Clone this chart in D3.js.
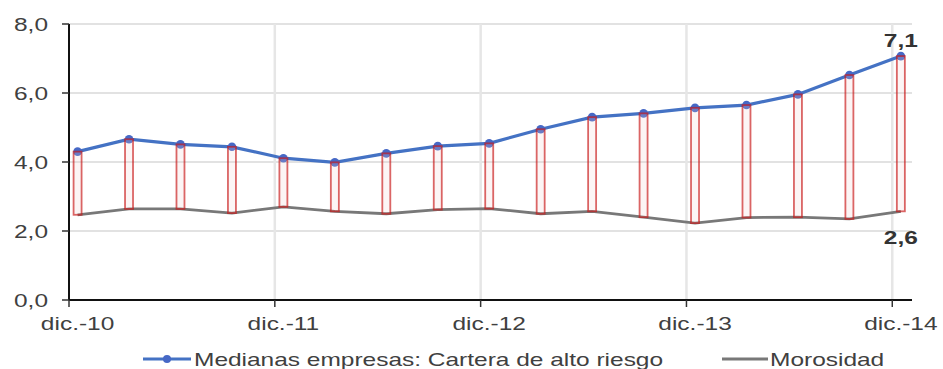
<!DOCTYPE html>
<html><head><meta charset="utf-8">
<script src="https://cdn.jsdelivr.net/npm/d3@7/dist/d3.min.js"></script>
<style>
html,body{margin:0;padding:0;background:#fff;}
svg{display:block;font-family:"Liberation Sans",Arial,sans-serif;}
</style></head>
<body>
<svg id="c" width="943" height="369"></svg>
<script>
const quarters = ["dic.-10","mar.-11","jun.-11","sep.-11","dic.-11","mar.-12","jun.-12","sep.-12","dic.-12","mar.-13","jun.-13","sep.-13","dic.-13","mar.-14","jun.-14","sep.-14","dic.-14"];
const highRisk = [4.30,4.66,4.51,4.44,4.11,3.99,4.25,4.46,4.54,4.95,5.30,5.41,5.57,5.65,5.96,6.52,7.07];
const morosidad = [2.47,2.64,2.64,2.52,2.70,2.57,2.50,2.62,2.65,2.50,2.57,2.40,2.23,2.39,2.40,2.35,2.57];
const xTickLabels = ["dic.-10","dic.-11","dic.-12","dic.-13","dic.-14"];
const yTickValues = [0,2,4,6,8];
const seriesNames = ["Medianas empresas: Cartera de alto riesgo","Morosidad"];

const SX = 1.36; // horizontal stretch of the reference text
const svg = d3.select("#c");
const fmt = v => d3.format(".1f")(v).replace(".", ",");

// months since dic.-10 ; points sit half a month after the tick
const monthOf = i => i * 3 + 0.5;
const x = d3.scaleLinear().domain([0, 49.15]).range([69, 912]);
const y = d3.scaleLinear().domain([0, 8]).range([300, 24]);

function stext(g, txt, px, py, anchor, opts) {
  return g.append("text")
    .attr("transform", `translate(${px},${py}) scale(${SX},1)`)
    .attr("text-anchor", anchor)
    .attr("font-size", opts.size || 18)
    .attr("font-weight", opts.weight || "normal")
    .attr("fill", opts.fill || "#404040")
    .text(txt);
}

// grid
const grid = svg.append("g");
grid.selectAll("line.h").data(yTickValues.filter(v => v > 0)).join("line")
  .attr("x1", x(0)).attr("x2", x(49.15))
  .attr("y1", d => y(d)).attr("y2", d => y(d))
  .attr("stroke", "#e2e2e2").attr("stroke-width", 2);
const tickMonths = xTickLabels.map((d, k) => k * 12);
grid.selectAll("line.v").data(tickMonths.slice(1)).join("line")
  .attr("x1", d => x(d)).attr("x2", d => x(d))
  .attr("y1", y(8)).attr("y2", y(0))
  .attr("stroke", "#e6e6e6").attr("stroke-width", 2.5);

// axes lines
const ax = svg.append("g");
ax.append("line").attr("x1", x(0)).attr("x2", x(0)).attr("y1", y(8)).attr("y2", y(0))
  .attr("stroke", "#111").attr("stroke-width", 2);
ax.append("line").attr("x1", x(0)).attr("x2", x(49.15)).attr("y1", y(0)).attr("y2", y(0))
  .attr("stroke", "#111").attr("stroke-width", 2);
ax.selectAll("line.yt").data(yTickValues).join("line")
  .attr("x1", x(0) - 7).attr("x2", x(0)).attr("y1", d => y(d)).attr("y2", d => y(d))
  .attr("stroke", "#333").attr("stroke-width", 1.5);
ax.selectAll("line.xt").data(tickMonths).join("line")
  .attr("x1", d => x(d)).attr("x2", d => x(d)).attr("y1", y(0)).attr("y2", y(0) + 7)
  .attr("stroke", "#333").attr("stroke-width", 1.5);
yTickValues.forEach(v => stext(ax, fmt(v), 48, y(v) + 6.5, "end", {}));
xTickLabels.forEach((lab, k) => stext(ax, lab, x(k * 12 + 0.5), 330, "middle", {}));

// series
const lineGen = d3.line().x((d, i) => x(monthOf(i))).y(d => y(d));
svg.append("path").datum(morosidad).attr("d", lineGen)
  .attr("fill", "none").attr("stroke", "#787878").attr("stroke-width", 2.8);
svg.append("path").datum(highRisk).attr("d", lineGen)
  .attr("fill", "none").attr("stroke", "#4472c4").attr("stroke-width", 3.2);
svg.selectAll("circle.m").data(highRisk).join("circle")
  .attr("cx", (d, i) => x(monthOf(i))).attr("cy", d => y(d)).attr("r", 4.3)
  .attr("fill", "#4668c6");

// high-low bars
svg.selectAll("rect.hl").data(highRisk).join("rect")
  .attr("x", (d, i) => x(monthOf(i)) - 4)
  .attr("y", d => y(d))
  .attr("width", 8)
  .attr("height", (d, i) => y(morosidad[i]) - y(d))
  .attr("fill", "rgba(240,205,205,0.2)")
  .attr("stroke", "rgba(200,20,20,0.65)").attr("stroke-width", 1.8);

// data labels
const last = highRisk.length - 1;
stext(svg, fmt(highRisk[last]), x(monthOf(last)), 47, "middle", {weight: "bold", fill: "#333"});
stext(svg, fmt(morosidad[last]), x(monthOf(last)), 244, "middle", {weight: "bold", fill: "#333"});

// legend
const lg = svg.append("g");
lg.append("line").attr("x1", 143).attr("x2", 191).attr("y1", 359).attr("y2", 359)
  .attr("stroke", "#4472c4").attr("stroke-width", 3);
lg.append("circle").attr("cx", 167).attr("cy", 359).attr("r", 4).attr("fill", "#4668c6");
stext(lg, seriesNames[0], 194, 366, "start", {});
lg.append("line").attr("x1", 722).attr("x2", 768).attr("y1", 359).attr("y2", 359)
  .attr("stroke", "#787878").attr("stroke-width", 3);
stext(lg, seriesNames[1], 770, 366, "start", {});
</script>
</body></html>
